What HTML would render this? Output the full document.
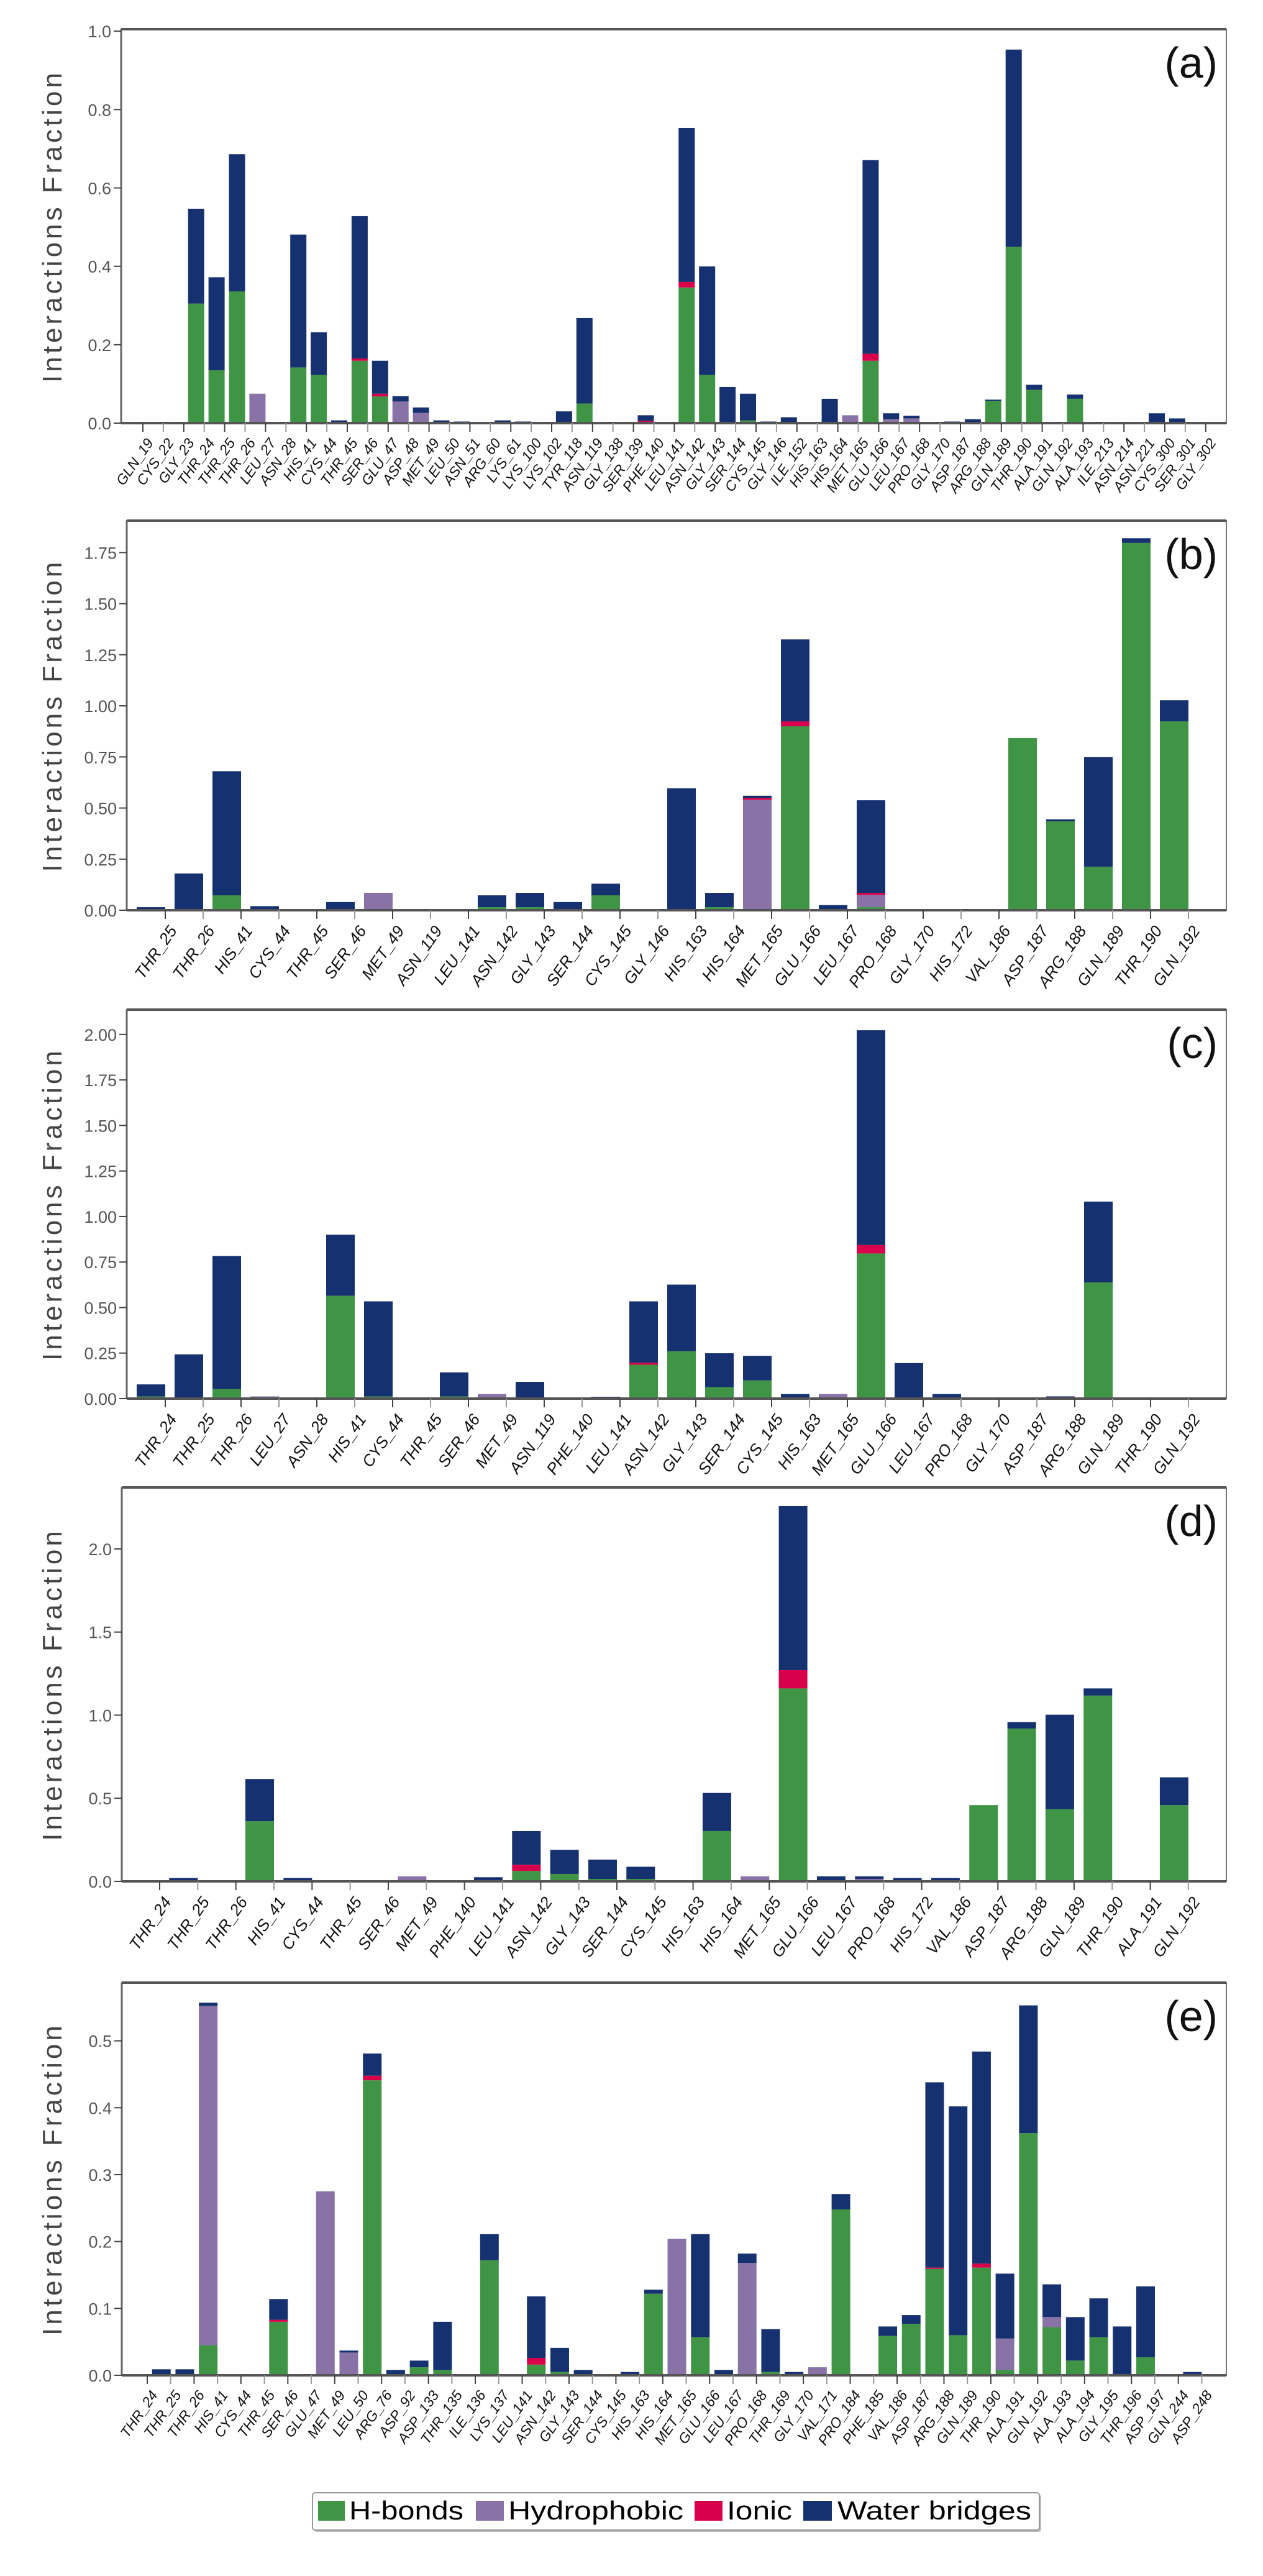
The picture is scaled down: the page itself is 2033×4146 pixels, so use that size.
<!DOCTYPE html>
<html><head><meta charset="utf-8"><title>Interactions Fraction</title>
<style>
html,body{margin:0;padding:0;background:#fff;}
svg{display:block;font-family:"Liberation Sans Narrow","Liberation Sans",sans-serif;}
</style></head>
<body>
<svg id="fig" xmlns="http://www.w3.org/2000/svg" width="2033" height="4146" viewBox="0 0 2033 4146">
<rect x="0" y="0" width="2033" height="4146" fill="#fff"/>
<g>
  <rect x="506" y="4015" width="1170" height="60" fill="#bbb" rx="4"/>
  <rect x="503" y="4012" width="1170" height="60" fill="#fff" stroke="#999" stroke-width="2" rx="4"/>
  <g><rect x="512" y="4025" width="43" height="32" fill="#3f9545"/><text x="562" y="4055" font-size="42" textLength="184" lengthAdjust="spacingAndGlyphs">H-bonds</text></g>
  <g><rect x="766" y="4025" width="45" height="32" fill="#8872a6"/><text x="818" y="4055" font-size="42" textLength="282" lengthAdjust="spacingAndGlyphs">Hydrophobic</text></g>
  <g><rect x="1118" y="4025" width="45" height="32" fill="#d8004a"/><text x="1170" y="4055" font-size="42" textLength="105" lengthAdjust="spacingAndGlyphs">Ionic</text></g>
  <g><rect x="1293" y="4025" width="46" height="32" fill="#16316f"/><text x="1348" y="4055" font-size="42" textLength="312" lengthAdjust="spacingAndGlyphs">Water bridges</text></g>
</g>
</svg>
<script>
// ---------- Panel (a) data ----------
const catsA = ["GLN_19","CYS_22","GLY_23","THR_24","THR_25","THR_26","LEU_27","ASN_28","HIS_41","CYS_44","THR_45","SER_46","GLU_47","ASP_48","MET_49","LEU_50","ASN_51","ARG_60","LYS_61","LYS_100","LYS_102","TYR_118","ASN_119","GLY_138","SER_139","PHE_140","LEU_141","ASN_142","GLY_143","SER_144","CYS_145","GLY_146","ILE_152","HIS_163","HIS_164","MET_165","GLU_166","LEU_167","PRO_168","GLY_170","ASP_187","ARG_188","GLN_189","THR_190","ALA_191","GLN_192","ALA_193","ILE_213","ASN_214","ASN_221","CYS_300","SER_301","GLY_302"];
const hbA = [0,0,0,.305,.135,.336,0,0,.142,.123, 0,.159,.068,0,0,0,0,0,0,0, 0,0,.05,0,0,0,0,.346,.123,0, .007,0,0,0,0,0,.159,0,0,0, 0,0,.057,.45,.085,0,.062,0,0,0, 0,0,0];
const hyA = [0,0,0,0,0,0,.075,0,0,0, 0,0,0,.055,.026,0,0,0,0,0, 0,0,0,0,0,0,0,0,0,0, 0,0,0,0,0,.02,0,.01,.012,0, 0,0,0,0,0,0,0,0,0,0, 0,0,0];
const ioA = [0,0,0,0,0,0,0,0,0,0, 0,.006,.007,0,0,0,0,0,0,0, 0,0,0,0,0,.006,0,.014,0,0, 0,0,0,0,0,0,.018,0,0,0, 0,0,0,0,0,0,0,0,0,0, 0,0,0];
const wbA = [0,0,0,.242,.237,.35,0,0,.339,.109, .007,.363,.084,.014,.014,.007,.004,0,.007,.004, 0,.03,.218,0,0,.014,0,.393,.277,.092, .068,.004,.015,0,.062,0,.494,.015,.007,0, .004,.01,.003,.503,.013,0,.011,0,0,0, .025,.012,0];
const ticksA = [0,0.2,0.4,0.6,0.8,1.0];

// ---------- Panel (b) data ----------
const catsB = ["THR_25","THR_26","HIS_41","CYS_44","THR_45","SER_46","MET_49","ASN_119","LEU_141","ASN_142","GLY_143","SER_144","CYS_145","GLY_146","HIS_163","HIS_164","MET_165","GLU_166","LEU_167","PRO_168","GLY_170","HIS_172","VAL_186","ASP_187","ARG_188","GLN_189","THR_190","GLN_192"];
const hbB = [0,0,.073,0,0,0,0,0,0,.015,.015,0,.073,0,0,.015,0,.9,0,.015,0,0,0,.842,.435,.213,1.797,.924];
const hyB = [0,0,0,0,0,0,.085,0,0,0,0,0,0,0,0,0,.541,0,0,.06,0,0,0,0,0,0,0,0];
const ioB = [0,0,0,0,0,0,0,0,0,0,0,0,0,0,0,0,.009,.024,0,.01,0,0,0,0,0,0,0,0];
const wbB = [.015,.18,.607,.02,0,.04,0,0,0,.058,.07,.04,.057,0,.597,.07,.01,.401,.025,.453,0,0,0,0,.01,.537,.023,.103];
const ticksB = [0,0.25,0.5,0.75,1.0,1.25,1.5,1.75];

// ---------- Panel (c) data ----------
const catsC = ["THR_24","THR_25","THR_26","LEU_27","ASN_28","HIS_41","CYS_44","THR_45","SER_46","MET_49","ASN_119","PHE_140","LEU_141","ASN_142","GLY_143","SER_144","CYS_145","HIS_163","MET_165","GLU_166","LEU_167","PRO_168","GLY_170","ASP_187","ARG_188","GLN_189","THR_190","GLN_192"];
const hbC = [.012,0,.052,0,0,.565,.012,0,.012,0,0,0,0,.186,.26,.063,.1,0,0,.797,0,0,0,0,0,.638,0,0];
const hyC = [0,0,0,.012,0,0,0,0,0,.025,0,0,0,0,0,0,0,0,.025,0,0,0,0,0,0,0,0,0];
const ioC = [0,0,0,0,0,0,0,0,0,0,0,0,0,.011,0,0,0,0,0,.046,0,0,0,0,0,0,0,0];
const wbC = [.066,.243,.731,0,0,.335,.522,0,.132,0,.092,0,.01,.337,.366,.186,.135,.025,0,1.18,.195,.025,0,0,.012,.444,0,0];
const ticksC = [0,0.25,0.5,0.75,1.0,1.25,1.5,1.75,2.0];

// ---------- Panel (d) data ----------
const catsD = ["THR_24","THR_25","THR_26","HIS_41","CYS_44","THR_45","SER_46","MET_49","PHE_140","LEU_141","ASN_142","GLY_143","SER_144","CYS_145","HIS_163","HIS_164","MET_165","GLU_166","LEU_167","PRO_168","HIS_172","VAL_186","ASP_187","ARG_188","GLN_189","THR_190","ALA_191","GLN_192"];
const hbD = [0,0,0,.362,0,0,0,0,0,0,.063,.045,.015,.015,0,.303,0,1.161,0,0,0,0,.459,.919,.434,1.118,0,.459];
const hyD = [0,0,0,0,0,0,0,.03,0,0,0,0,0,0,0,0,.03,0,0,.015,0,0,0,0,0,0,0,0];
const ioD = [0,0,0,0,0,0,0,0,0,0,.037,0,0,0,0,0,0,.11,0,0,0,0,0,0,0,0,0,0];
const wbD = [0,.02,0,.254,.02,0,0,0,0,.025,.203,.145,.116,.073,0,.229,0,.987,.03,.015,.02,.02,0,.039,.569,.043,0,.167];
const ticksD = [0,0.5,1.0,1.5,2.0];

// ---------- Panel (e) data ----------
const catsE = ["THR_24","THR_25","THR_26","HIS_41","CYS_44","THR_45","SER_46","GLU_47","MET_49","LEU_50","ARG_76","ASP_92","ASP_133","THR_135","ILE_136","LYS_137","LEU_141","ASN_142","GLY_143","SER_144","CYS_145","HIS_163","HIS_164","MET_165","GLU_166","LEU_167","PRO_168","THR_169","GLY_170","VAL_171","PRO_184","PHE_185","VAL_186","ASP_187","ARG_188","GLN_189","THR_190","ALA_191","GLN_192","ALA_193","ALA_194","GLY_195","THR_196","ASP_197","GLN_244","ASP_248"];
const hbE = [0,0,0,.045,0,0,.08,0,0,0, .441,0,.012,.008,0,.172,0,.016,.005,0, 0,0,.122,0,.057,0,0,.005,0,0, .248,0,.059,.077,.159,.06,.161,.008,.362,.072, .022,.057,0,.027,0,0];
const hyE = [0,0,0,.507,0,0,0,0,.275,.034, 0,0,0,0,0,0,0,0,0,0, 0,0,0,.204,0,0,.168,0,0,.012, 0,0,0,0,0,0,0,.047,0,.015, 0,0,0,0,0,0];
const ioE = [0,0,0,0,0,0,.003,0,0,0, .007,0,0,0,0,0,0,.01,0,0, 0,0,0,0,0,0,0,0,0,0, 0,0,0,0,.002,0,.006,0,0,0, 0,0,0,0,0,0];
const wbE = [0,.009,.009,.005,0,0,.031,0,0,.003, .033,.008,.01,.072,0,.039,0,.092,.036,.008, 0,.005,.006,0,.154,.008,.014,.064,.005,0, .023,0,.014,.013,.277,.342,.317,.097,.191,.049, .065,.058,.073,.106,0,.005];
const ticksE = [0,0.1,0.2,0.3,0.4,0.5];

const NS = "http://www.w3.org/2000/svg";
const svg = document.getElementById('fig');
const COLORS = ["#3f9545","#8872a6","#d8004a","#16316f"];
const SER = ["hbonds","hydrophobic","ionic","water-bridges"];

function mk(tag, attrs, parent){
  const e = document.createElementNS(NS, tag);
  for (const k in attrs) e.setAttribute(k, attrs[k]);
  (parent||svg).appendChild(e);
  return e;
}

function panel(cfg){
  const g = mk('g', {});
  
  
  const {left, right, top, bottom, ymax, tick0, tickStep, barW, cats, series, ticks, dec, lblSize} = cfg;
  const y = v => bottom - v / ymax * (bottom - top);
  const xt = i => tick0 + i * tickStep;
  const fr = mk('rect', {x:left, y:top, width:right-left, height:bottom-top, fill:'none', stroke:'#777', 'stroke-width':2}, g);
  
  
  mk('line', {x1:left, y1:top, x2:right, y2:top, stroke:'#555', 'stroke-width':4}, g);
  mk('line', {x1:left, y1:top, x2:left, y2:bottom, stroke:'#666', 'stroke-width':3}, g);
  ticks.forEach(t => {
    const yy = y(t);
    mk('line', {x1:left-12, y1:yy, x2:left, y2:yy, stroke:'#444', 'stroke-width':2}, g);
    const tx = mk('text', {x:left-16, y:yy+10, 'text-anchor':'end', 'font-size':27, fill:'#555'}, g);
    tx.textContent = t.toFixed(dec);
    
    
  });
  cats.forEach((c, i) => {
    const xr = xt(i);
    let acc = 0;
    series.forEach((arr, s) => {
      const v = arr[i];
      if (v <= 0) return;
      const y0 = y(acc), y1 = y(acc + v);
      acc += v;
      const r = mk('rect', {x:xr-barW, y:y1, width:barW, height:Math.max(y0-y1, 1), fill:COLORS[s]}, g);
      
      
    });
  });
  mk('line', {x1:left, y1:bottom, x2:right, y2:bottom, stroke:'#555', 'stroke-width':4}, g);
  cats.forEach((c, i) => {
    const xx = xt(i);
    mk('line', {x1:xx, y1:bottom, x2:xx, y2:bottom+14, stroke:(i%2? '#999':'#444'), 'stroke-width':2}, g);
    const tx = mk('text', {x:xx+4, y:bottom+22, 'text-anchor':'end', 'font-size':lblSize, 'font-style':'italic', fill:'#111',
      transform:'rotate(-55 ' + (xx+4) + ' ' + (bottom+22) + ')', 'dominant-baseline':'hanging'}, g);
    tx.textContent = c;
    
    
  });
  const cy = (top + bottom) / 2;
  const yt = mk('text', {x:84, y:cy, 'text-anchor':'middle', 'font-size':44, fill:'#444', 'letter-spacing':5,
    'font-family':'"Liberation Sans", sans-serif', transform:'rotate(-90 84 ' + cy + ') translate(0 15)'}, g);
  yt.textContent = 'Interactions Fraction';
  
  
  const pl = mk('text', {x:right-14, y:top+78, 'text-anchor':'end', 'font-size':70, fill:'#111'}, g);
  pl.textContent = '(' + cfg.id + ')';
  
  
}

panel({id:'a', left:195, right:1974, top:47, bottom:681, ymax:1.005, tick0:230, tickStep:32.9, barW:26,
  cats:catsA, series:[hbA,hyA,ioA,wbA], ticks:ticksA, dec:1, lblSize:23});
panel({id:'b', left:204, right:1974, top:838, bottom:1465, ymax:1.906, tick0:266, tickStep:61, barW:46,
  cats:catsB, series:[hbB,hyB,ioB,wbB], ticks:ticksB, dec:2, lblSize:26});
panel({id:'c', left:204, right:1974, top:1625, bottom:2251, ymax:2.136, tick0:266, tickStep:61, barW:46,
  cats:catsC, series:[hbC,hyC,ioC,wbC], ticks:ticksC, dec:2, lblSize:26});
panel({id:'d', left:196, right:1974, top:2394, bottom:3028, ymax:2.37, tick0:257, tickStep:61.33, barW:46,
  cats:catsD, series:[hbD,hyD,ioD,wbD], ticks:ticksD, dec:1, lblSize:26});
panel({id:'e', left:196, right:1974, top:3191, bottom:3823, ymax:0.587, tick0:237, tickStep:37.72, barW:30,
  cats:catsE, series:[hbE,hyE,ioE,wbE], ticks:ticksE, dec:1, lblSize:23});
</script>
</body></html>
